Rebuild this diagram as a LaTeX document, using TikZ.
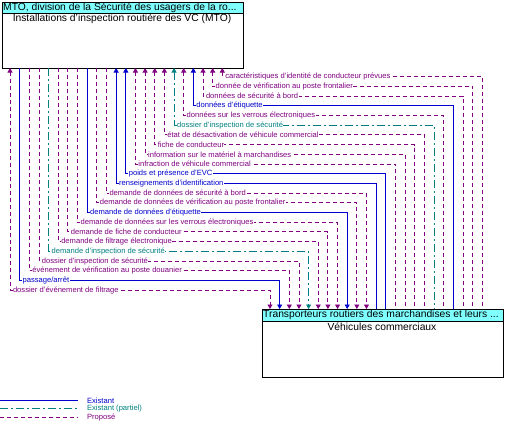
\documentclass[tikz,border=0pt]{standalone}
\usepackage{fontspec}
\setmainfont{Liberation Sans}
\usetikzlibrary{arrows.meta}
\definecolor{cB}{RGB}{0,0,204}
\definecolor{cP}{RGB}{128,0,128}
\definecolor{cT}{RGB}{0,128,128}
\definecolor{hdr}{RGB}{128,255,255}
\tikzset{
  ex/.style={draw=cB, line width=0.9pt},
  pa/.style={draw=cT, line width=0.9pt, dash pattern=on 8pt off 3pt on 2pt off 3pt},
  pr/.style={draw=cP, line width=0.9pt, dash pattern=on 4pt off 3pt},
  aup/.style={arrows={Triangle[width=5pt,length=4.5pt]-}},
  adn/.style={arrows={-Triangle[width=5pt,length=4.5pt]}},
  abo/.style={arrows={Triangle[width=5pt,length=4.5pt]-Triangle[width=5pt,length=4.5pt]}},
  lbl/.style={font=\fontsize{7.6}{9}\selectfont, fill=white, inner sep=0.4pt, anchor=west},
  boxframe/.style={draw=black, line width=1pt, inner sep=0pt, anchor=north west, minimum width=241pt},
  hdrbox/.style={boxframe, fill=hdr, minimum height=11.5pt},
  bigtext/.style={font=\fontsize{10.3}{12}\selectfont, inner sep=0pt},
}
\newcommand{\flowline}[5]{%
  \pgfmathsetmacro\xt{10+9.65*(23-#1)}%
  \pgfmathsetmacro\xb{270+9.65*(23-#1)}%
  \pgfmathsetmacro\yk{76.7+9.7*(#1-1)}%
  \coordinate (t#1) at (\xt,68);
  \coordinate (b#1) at (\xb,309);
  \coordinate (h#1) at (\xt,\yk);
  \draw[#2,#5] (t#1) -- (h#1) -- (b#1 |- h#1) -- (b#1);
  \node[lbl,text=#3] (l#1) at ([xshift=2.4pt]h#1) {#4};
}
\begin{document}
\begin{tikzpicture}[x=1pt,y=-1pt]
\useasboundingbox (0,0) rectangle (509,431);
% top box
\node[boxframe, minimum height=66.5pt] (mto) at (1.5,1.5) {};
\node[hdrbox] (mtoh) at (1.5,1.5) {};
\node[bigtext, anchor=west] (mtot) at (3,7.4) {MTO, division de la Sécurité des usagers de la ro...};
\node[bigtext] (mtob) at (122,18.5) {Installations d'inspection routière des VC (MTO)};
% bottom box
\node[boxframe, minimum height=68pt] (vc) at (261.5,309) {};
\node[hdrbox] (vch) at (261.5,309) {};
\node[bigtext, anchor=west] (vct) at (263,315) {Transporteurs routiers des marchandises et leurs ...};
\node[bigtext] (vcb) at (382,327) {Véhicules commerciaux};
% flows
\flowline{1}{pr}{cP}{caractéristiques d'identité de conducteur prévues}{aup}
\flowline{2}{pr}{cP}{donnée de vérification au poste frontalier}{aup}
\flowline{3}{pr}{cP}{données de sécurité à bord}{aup}
\flowline{4}{ex}{cB}{données d'étiquette}{aup}
\flowline{5}{pr}{cP}{données sur les verrous électroniques}{aup}
\flowline{6}{pa}{cT}{dossier d'inspection de sécurité}{aup}
\flowline{7}{pr}{cP}{état de désactivation de véhicule commercial}{aup}
\flowline{8}{pr}{cP}{fiche de conducteur}{aup}
\flowline{9}{pr}{cP}{information sur le matériel à marchandises}{aup}
\flowline{10}{pr}{cP}{infraction de véhicule commercial}{aup}
\flowline{11}{ex}{cB}{poids et présence d'EVC}{aup}
\flowline{12}{ex}{cB}{renseignements d'identification}{aup}
\flowline{13}{pr}{cP}{demande de données de sécurité à bord}{adn}
\flowline{14}{pr}{cP}{demande de données de vérification au poste frontalier}{adn}
\flowline{15}{ex}{cB}{demande de données d'étiquette}{adn}
\flowline{16}{pr}{cP}{demande de données sur les verrous électroniques}{adn}
\flowline{17}{pr}{cP}{demande de fiche de conducteur}{adn}
\flowline{18}{pr}{cP}{demande de filtrage électronique}{adn}
\flowline{19}{pa}{cT}{demande d'inspection de sécurité}{adn}
\flowline{20}{pr}{cP}{dossier d'inspection de sécurité}{adn}
\flowline{21}{pr}{cP}{événement de vérification au poste douanier}{adn}
\flowline{22}{ex}{cB}{passage/arrêt}{adn}
\flowline{23}{pr}{cP}{dossier d'événement de filtrage}{abo}
% legend
\coordinate (g1a) at (0,400.7); \coordinate (g1b) at (78,400.7);
\coordinate (g2a) at (0,408.7); \coordinate (g2b) at (78,408.7);
\coordinate (g3a) at (0,417.3); \coordinate (g3b) at (78,417.3);
\draw[ex] (g1a) -- (g1b);
\draw[pa] (g2a) -- (g2b);
\draw[pr] (g3a) -- (g3b);
\node[lbl, fill=none, text=cB] (lg1) at (86.5,400.7) {Existant};
\node[lbl, fill=none, text=cT] (lg2) at (86.5,408.7) {Existant (partiel)};
\node[lbl, fill=none, text=cP] (lg3) at (86.5,417.3) {Proposé};
\end{tikzpicture}
\end{document}
